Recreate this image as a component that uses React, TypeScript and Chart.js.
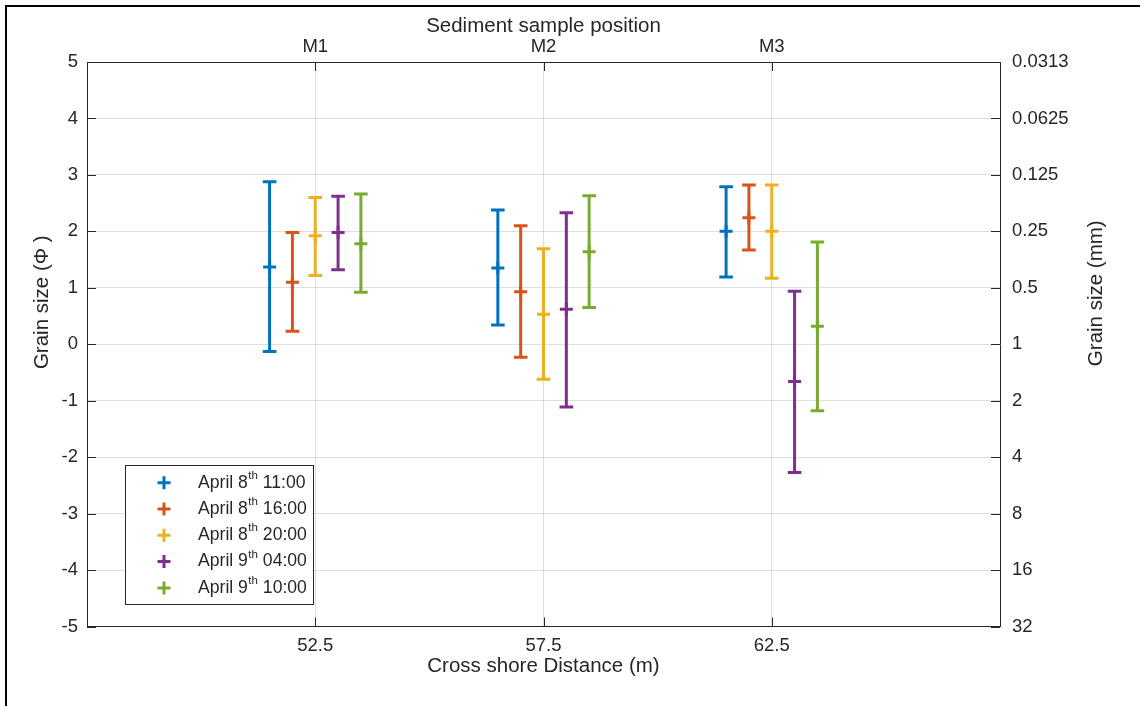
import React, { useEffect, useRef } from 'react';
import Chart from 'chart.js/auto';

// ---- Data ----
const groupPositions = [52.5, 57.5, 62.5];
const groupLabels = ['M1', 'M2', 'M3'];
const seriesOffsets = [-1, -0.5, 0, 0.5, 1];
const mmTickLabels = ['0.0313', '0.0625', '0.125', '0.25', '0.5', '1', '2', '4', '8', '16', '32'];

const seriesDays = ['April 8', 'April 8', 'April 8', 'April 9', 'April 9'];
const seriesSup = ['th', 'th', 'th', 'th', 'th'];
const seriesTimes = ['11:00', '16:00', '20:00', '04:00', '10:00'];
const seriesColors = ['#0072BD', '#D95319', '#EDB120', '#7E2F8E', '#77AC30'];

const meanA0811 = [1.37, 1.35, 2.0];
const lowA0811 = [-0.13, 0.34, 1.19];
const highA0811 = [2.88, 2.38, 2.79];

const meanA0816 = [1.1, 0.93, 2.24];
const lowA0816 = [0.23, -0.23, 1.67];
const highA0816 = [1.98, 2.1, 2.82];

const meanA0820 = [1.92, 0.53, 2.0];
const lowA0820 = [1.22, -0.62, 1.17];
const highA0820 = [2.6, 1.69, 2.82];

const meanA0904 = [1.98, 0.62, -0.66];
const lowA0904 = [1.32, -1.11, -2.27];
const highA0904 = [2.62, 2.33, 0.94];

const meanA0910 = [1.78, 1.64, 0.32];
const lowA0910 = [0.92, 0.65, -1.18];
const highA0910 = [2.66, 2.63, 1.81];

const seriesMeans = [meanA0811, meanA0816, meanA0820, meanA0904, meanA0910];
const seriesLows = [lowA0811, lowA0816, lowA0820, lowA0904, lowA0910];
const seriesHighs = [highA0811, highA0816, highA0820, highA0904, highA0910];

const leftTitle = 'Grain size (Φ )';
const rightTitle = 'Grain size (mm)';

const AXIS = '#262626';
const GRID = 'rgba(38,38,38,0.15)';
const FONT = '"Liberation Sans", Arial, Helvetica, sans-serif';
const TICK_SIZE = 18.5;
const TITLE_SIZE = 20.5;

const framePlugin = {
  id: 'frame',
  beforeDraw(chart: any) {
    const ctx = chart.ctx;
    ctx.save();
    ctx.fillStyle = '#ffffff';
    ctx.fillRect(0, 0, chart.width, chart.height);
    ctx.strokeStyle = '#000000';
    ctx.lineWidth = 2;
    ctx.beginPath();
    ctx.moveTo(6, chart.height + 2);
    ctx.lineTo(6, 6);
    ctx.lineTo(chart.width - 3, 6);
    ctx.stroke();
    ctx.restore();
  },
};

const ticksLegendPlugin = {
  id: 'ticksLegend',
  afterDraw(chart: any) {
    const ctx = chart.ctx;
    const { left, right, top, bottom } = chart.chartArea;
    const tl = 9;
    ctx.save();
    ctx.strokeStyle = AXIS;
    ctx.lineWidth = 1;
    ctx.beginPath();
    const y = chart.scales.y;
    y.ticks.forEach((t: any) => {
      const py = Math.round(y.getPixelForValue(t.value)) + 0.5;
      ctx.moveTo(left, py);
      ctx.lineTo(left + tl, py);
      ctx.moveTo(right, py);
      ctx.lineTo(right - tl, py);
    });
    const x = chart.scales.x;
    x.ticks.forEach((t: any) => {
      const px = Math.round(x.getPixelForValue(t.value)) + 0.5;
      ctx.moveTo(px, bottom);
      ctx.lineTo(px, bottom - tl);
      ctx.moveTo(px, top);
      ctx.lineTo(px, top + tl);
    });
    ctx.stroke();

    // vertical axis titles (both read bottom-to-top)
    ctx.fillStyle = AXIS;
    ctx.font = `${TITLE_SIZE}px ${FONT}`;
    ctx.textAlign = 'center';
    ctx.textBaseline = 'middle';
    const midY = (top + bottom) / 2;
    ctx.save();
    ctx.translate(42, midY - 42);
    ctx.rotate(-Math.PI / 2);
    ctx.fillText(leftTitle, 0, 0);
    ctx.restore();
    ctx.save();
    ctx.translate(1096, midY - 51);
    ctx.rotate(-Math.PI / 2);
    ctx.fillText(rightTitle, 0, 0);
    ctx.restore();

    // Legend
    const bx = left + 37.5;
    const by = bottom - 162;
    const bw = 188;
    const bh = 139;
    ctx.fillStyle = '#ffffff';
    ctx.fillRect(bx, by, bw, bh);
    ctx.strokeStyle = AXIS;
    ctx.lineWidth = 1;
    ctx.strokeRect(Math.round(bx) + 0.5, Math.round(by) + 0.5, bw, bh);
    const rowH = 26.3;
    const firstY = by + 18.2;
    for (let i = 0; i < seriesColors.length; i++) {
      const cy = firstY + i * rowH;
      const mx = bx + 39.5;
      ctx.strokeStyle = seriesColors[i];
      ctx.lineWidth = 3;
      ctx.beginPath();
      ctx.moveTo(mx - 6.5, cy);
      ctx.lineTo(mx + 6.5, cy);
      ctx.moveTo(mx, cy - 6.5);
      ctx.lineTo(mx, cy + 6.5);
      ctx.stroke();
      ctx.fillStyle = AXIS;
      ctx.textBaseline = 'middle';
      ctx.textAlign = 'left';
      let tx = bx + 73.5;
      ctx.font = `17.6px ${FONT}`;
      ctx.fillText(seriesDays[i], tx, cy);
      tx += ctx.measureText(seriesDays[i]).width;
      ctx.font = `11.5px ${FONT}`;
      ctx.fillText(seriesSup[i], tx + 0.5, cy - 7);
      tx += ctx.measureText(seriesSup[i]).width + 0.5;
      ctx.font = `17.6px ${FONT}`;
      ctx.fillText(' ' + seriesTimes[i], tx, cy);
    }
    ctx.restore();
  },
};

export default function App() {
  const ref = useRef<HTMLCanvasElement | null>(null);

  useEffect(() => {
    if (!ref.current) return;
    Chart.defaults.font.family = FONT;
    const datasets: any[] = [];
    seriesColors.forEach((color, s) => {
      const errData: any[] = [];
      groupPositions.forEach((g, i) => {
        const xv = g + seriesOffsets[s];
        errData.push({ x: xv, y: seriesLows[s][i] });
        errData.push({ x: xv, y: seriesHighs[s][i] });
        if (i < groupPositions.length - 1) errData.push({ x: xv, y: null });
      });
      datasets.push({
        label: seriesDays[s] + seriesSup[s] + ' ' + seriesTimes[s] + ' range',
        data: errData,
        showLine: true,
        spanGaps: false,
        borderColor: color,
        borderWidth: 3,
        pointStyle: 'line',
        pointRadius: 6.8,
        pointHoverRadius: 6.8,
        pointBorderColor: color,
        pointBorderWidth: 3,
        xAxisID: 'x',
        yAxisID: 'y',
      });
      datasets.push({
        label: seriesDays[s] + seriesSup[s] + ' ' + seriesTimes[s],
        data: groupPositions.map((g, i) => ({ x: g + seriesOffsets[s], y: seriesMeans[s][i] })),
        showLine: false,
        pointStyle: 'cross',
        pointRadius: 6.5,
        pointHoverRadius: 6.5,
        pointBorderColor: color,
        pointBackgroundColor: color,
        pointBorderWidth: 3,
        xAxisID: 'x',
        yAxisID: 'y',
      });
    });

    const tickFont = { size: TICK_SIZE, family: FONT };
    const titleFont = { size: TITLE_SIZE, family: FONT };
    const setGroupTicks = (scale: any) => {
      scale.ticks = groupPositions.map((v) => ({ value: v }));
    };

    const chart = new Chart(ref.current, {
      type: 'scatter',
      data: { datasets },
      plugins: [framePlugin, ticksLegendPlugin],
      options: {
        animation: false,
        responsive: false,
        events: [],
        layout: { padding: 0 },
        plugins: { legend: { display: false }, tooltip: { enabled: false } },
        scales: {
          x: {
            type: 'linear',
            position: 'bottom',
            min: 47.5,
            max: 67.5,
            afterBuildTicks: setGroupTicks,
            afterFit: (s: any) => { s.height = 79.5; },
            ticks: { font: tickFont, color: AXIS, padding: 8, maxRotation: 0, callback: (v: any) => String(v) },
            grid: { color: GRID, drawTicks: false, lineWidth: 1 },
            border: { color: AXIS, width: 1 },
            title: { display: true, text: 'Cross shore Distance (m)', font: titleFont, color: AXIS, padding: { top: 0, bottom: 27 } },
          },
          x2: {
            type: 'linear',
            position: 'top',
            min: 47.5,
            max: 67.5,
            afterBuildTicks: setGroupTicks,
            afterFit: (s: any) => { s.height = 62; },
            ticks: { font: tickFont, color: AXIS, padding: 4, maxRotation: 0, callback: (_v: any, i: number) => groupLabels[i] },
            grid: { display: false, drawTicks: false },
            border: { color: AXIS, width: 1 },
            title: { display: true, text: 'Sediment sample position', font: titleFont, color: AXIS, padding: { top: 14, bottom: 0 } },
          },
          y: {
            type: 'linear',
            position: 'left',
            min: -5,
            max: 5,
            afterFit: (s: any) => { s.width = 87; },
            ticks: { stepSize: 1, font: tickFont, color: AXIS, padding: 9 },
            grid: { color: GRID, drawTicks: false, lineWidth: 1 },
            border: { color: AXIS, width: 1 },
            title: { display: false },
          },
          y2: {
            type: 'linear',
            position: 'right',
            min: -5,
            max: 5,
            afterFit: (s: any) => { s.width = 143; },
            ticks: { stepSize: 1, font: tickFont, color: AXIS, padding: 12, callback: (v: any) => mmTickLabels[5 - Number(v)] },
            grid: { display: false, drawTicks: false },
            border: { color: AXIS, width: 1 },
            title: { display: false },
          },
        },
      } as any,
    });
    return () => chart.destroy();
  }, []);

  return (
    <div style={{ position: 'fixed', left: 0, top: 0, width: 1143, height: 706 }}>
      <canvas ref={ref} width={1143} height={706} style={{ display: 'block' }} />
    </div>
  );
}
